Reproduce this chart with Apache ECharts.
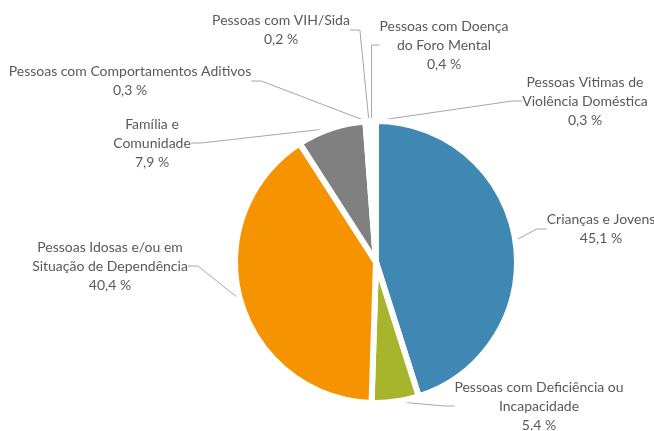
<!DOCTYPE html>
<html>
<head>
<meta charset="utf-8">
<script src="https://cdn.jsdelivr.net/npm/echarts@6/dist/echarts.min.js"></script>
<style>html,body{margin:0;padding:0;background:#fff}#c{width:654px;height:431px}</style>
</head>
<body>
<div id="c"></div>
<script>
const categories = [
  'Crianças e Jovens',
  'Pessoas com Deficiência ou\nIncapacidade',
  'Pessoas Idosas e/ou em\nSituação de Dependência',
  'Família e\nComunidade',
  'Pessoas com Comportamentos Aditivos',
  'Pessoas com VIH/Sida',
  'Pessoas com Doença\ndo Foro Mental',
  'Pessoas Vitimas de\nViolência Doméstica'
];
const values = [45.1, 5.4, 40.4, 7.9, 0.3, 0.2, 0.4, 0.3];
const valueLabels = ['45,1 %', '5.4 %', '40,4 %', '7,9 %', '0,3 %', '0,2 %', '0,4 %', '0,3 %'];
const colors = ['#3F88B3', '#A6B52B', '#F59300', '#808080', '#5B9BC4', '#C9D36A', '#F7B24D', '#A6A6A6'];

// label block centres (layout)
const labelCentres = [
  [601, 229], [539, 406], [110, 266], [152, 143],
  [130, 81], [281, 30], [444, 45], [585, 101]
];

const chart = echarts.init(document.getElementById('c'), null, {renderer: 'canvas'});
chart.setOption({
  animation: false,
  series: [{
    type: 'pie',
    center: [376, 262],
    radius: 141,
    startAngle: 90,
    clockwise: true,
    avoidLabelOverlap: false,
    emphasis: {disabled: true},
    itemStyle: {borderColor: '#fff', borderWidth: 6},
    label: {
      show: true,
      color: '#595959',
      fontFamily: 'Lato',
      fontSize: 14,
      lineHeight: 19,
      align: 'center',
      formatter: p => p.name + '\n' + valueLabels[p.dataIndex]
    },
    labelLine: {show: true, length: 10, length2: 10, lineStyle: {color: '#A6A6A6', width: 1}},
    labelLayout: p => {
      const c = labelCentres[p.dataIndex];
      return {x: c[0], y: c[1], align: 'center', verticalAlign: 'middle'};
    },
    data: categories.map((n, i) => ({
      name: n, value: values[i],
      itemStyle: {color: colors[i]}
    }))
  }]
});
</script>
</body>
</html>
